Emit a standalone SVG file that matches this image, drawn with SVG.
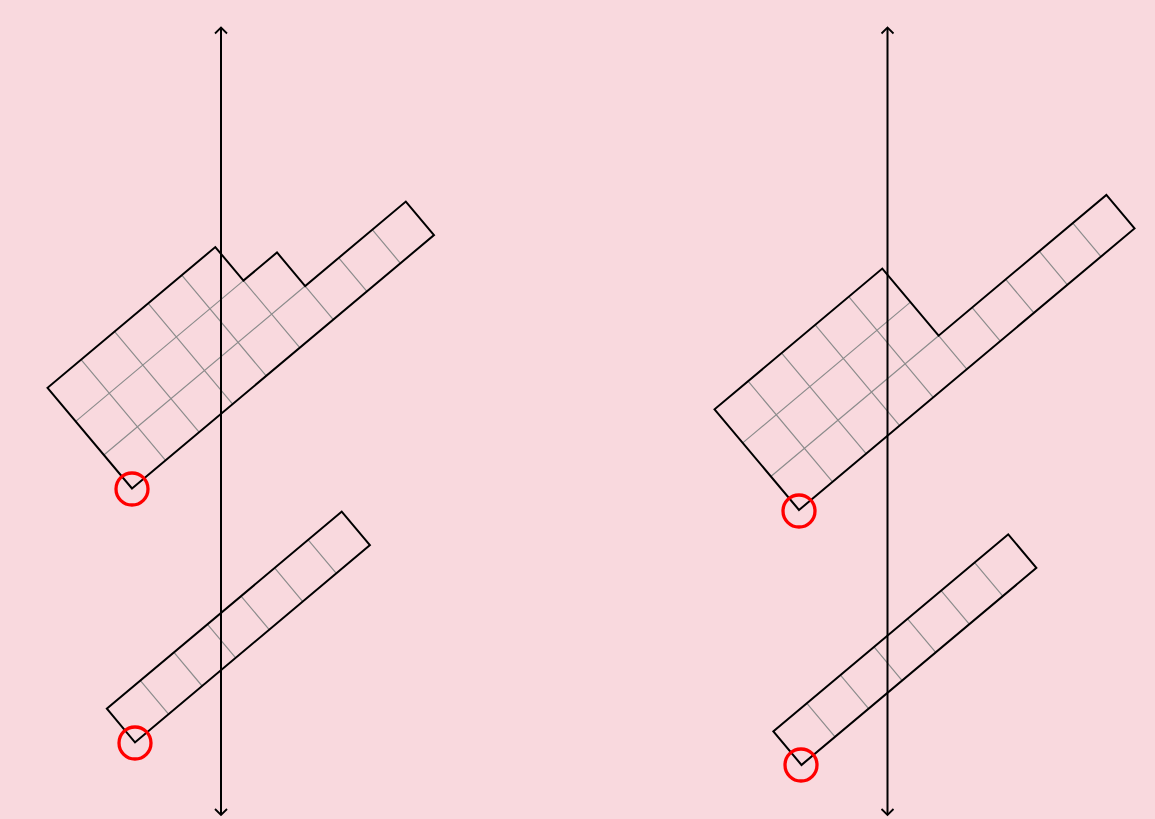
<svg xmlns="http://www.w3.org/2000/svg" width="1155" height="819" viewBox="0 0 1155 819">
<style>
.outline{fill:none;stroke:#000;stroke-width:2;stroke-linejoin:miter}
.grid{fill:none;stroke:#8c8c8c;stroke-width:1.2}
.mark{fill:none;stroke:#ff0000;stroke-width:3.3}
.axis{fill:none;stroke:#000;stroke-width:2}
.head{fill:none;stroke:#000;stroke-width:1.8}
</style>
<rect width="1155" height="819" fill="#f9d9de"/>

<g id="shape-left-top" transform="translate(132,488.5) rotate(-40)">
<path class="grid" d="M0,-43.8H262.8M0,-87.6H219M43.8,0V-131.4M87.6,0V-131.4M131.4,0V-131.4M175.2,0V-131.4M219,0V-87.6M262.8,0V-43.8M306.6,0V-43.8M350.4,0V-43.8"/>
<path class="outline" d="M0,0H394.2V-43.8H262.8V-87.6H219V-131.4H0Z"/>
</g>
<circle id="mark-left-top" class="mark" cx="132" cy="489" r="16"/>

<g id="shape-left-bottom" transform="translate(135,742.3) rotate(-40)">
<path class="grid" d="M43.8,0V-43.8M87.6,0V-43.8M131.4,0V-43.8M175.2,0V-43.8M219,0V-43.8M262.8,0V-43.8"/>
<path class="outline" d="M0,0H306.6V-43.8H0Z"/>
</g>
<circle id="mark-left-bottom" class="mark" cx="135" cy="743" r="16"/>

<g id="shape-right-top" transform="translate(799,510) rotate(-40)">
<path class="grid" d="M0,-43.8H219M0,-87.6H219M43.8,0V-131.4M87.6,0V-131.4M131.4,0V-131.4M175.2,0V-131.4M219,0V-43.8M262.8,0V-43.8M306.6,0V-43.8M350.4,0V-43.8M394.2,0V-43.8"/>
<path class="outline" d="M0,0H438V-43.8H219V-131.4H0Z"/>
</g>
<circle id="mark-right-top" class="mark" cx="799" cy="511" r="16"/>

<g id="shape-right-bottom" transform="translate(801.5,765) rotate(-40)">
<path class="grid" d="M43.8,0V-43.8M87.6,0V-43.8M131.4,0V-43.8M175.2,0V-43.8M219,0V-43.8M262.8,0V-43.8"/>
<path class="outline" d="M0,0H306.6V-43.8H0Z"/>
</g>
<circle id="mark-right-bottom" class="mark" cx="801" cy="765" r="16"/>

<g id="connectors">
<line class="axis" x1="221" y1="28" x2="221" y2="815"/>
<path class="head" d="M215,33.5L221,27.5L227,33.5M215,809L221,815L227,809"/>
<line class="axis" x1="887.5" y1="28" x2="887.5" y2="815"/>
<path class="head" d="M881.5,33.5L887.5,27.5L893.5,33.5M881.5,809L887.5,815L893.5,809"/>
</g>
</svg>
